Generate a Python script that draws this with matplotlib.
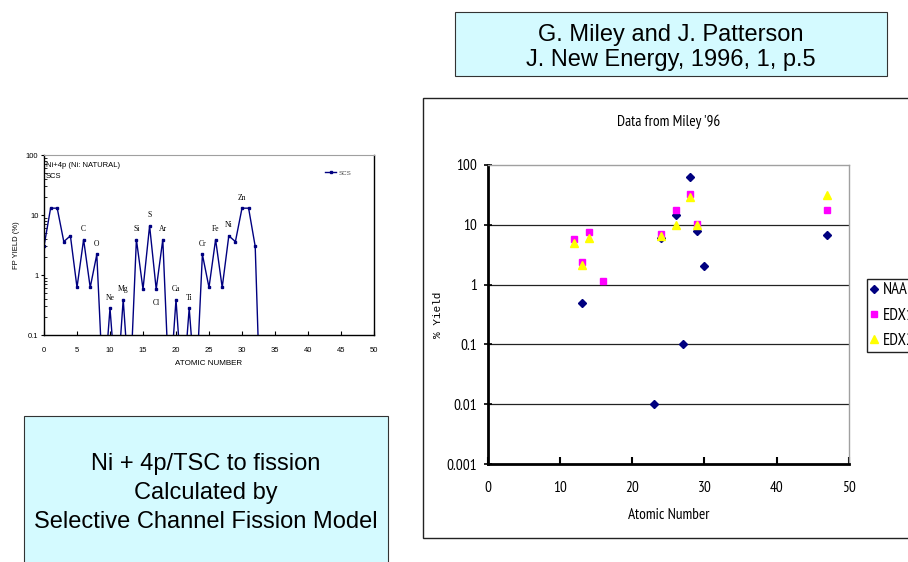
import matplotlib
matplotlib.use("Agg")
import matplotlib.pyplot as plt
from matplotlib.patches import Rectangle
from matplotlib.ticker import LogLocator, NullFormatter, FixedLocator

# --- left chart: SCS model (Ni + 4p, natural Ni) ---
scs_z = list(range(0, 34))
scs_yield = [3.0, 13, 13, 3.6, 4.5, 0.62, 3.9, 0.62, 2.2, 0.01,
             0.28, 0.01, 0.39, 0.01, 3.9, 0.58, 6.6, 0.58, 3.9, 0.01,
             0.39, 0.01, 0.28, 0.01, 2.2, 0.62, 3.9, 0.62, 4.5, 3.6,
             13, 13, 3.0, 0.001]
elem_names = ['C', 'O', 'Ne', 'Mg', 'Si', 'S', 'Ar', 'Cl', 'Ca', 'Ti', 'Cr', 'Fe', 'Ni', 'Zn']
elem_z = [6, 8, 10, 12, 14, 16, 18, 17, 20, 22, 24, 26, 28, 30]
elem_below = ['Cl']

# --- right chart: Miley '96 data ---
naa_z = [13, 23, 24, 26, 27, 28, 29, 30, 47]
naa_yield = [0.5, 0.01, 5.9, 14.4, 0.1, 63, 7.9, 2.06, 6.6]
edx1_z = [12, 13, 14, 16, 24, 26, 28, 29, 47]
edx1_yield = [5.7, 2.34, 7.4, 1.15, 7.1, 17.3, 33, 10.3, 17.3]
edx2_z = [12, 13, 14, 24, 26, 28, 29, 47]
edx2_yield = [5.0, 2.1, 5.9, 6.4, 10, 29, 10, 31]

box_fill = '#D4FAFF'
sans = ['Liberation Sans', 'DejaVu Sans']
narrow = ['PT Sans Narrow', 'Roboto Condensed', 'Archivo Narrow', 'Liberation Sans']

fig = plt.figure(figsize=(9.08, 5.62), dpi=100)
fig.patch.set_facecolor('white')

# outer frame of the right chart and the two note boxes
fig.patches.append(Rectangle((423 / 908, 1 - 538 / 562), 0.6, 440 / 562,
                             transform=fig.transFigure, facecolor='white',
                             edgecolor='#222222', linewidth=1.0, zorder=-2))
fig.patches.append(Rectangle((455 / 908, 1 - 76 / 562), 432 / 908, 64 / 562,
                             transform=fig.transFigure, facecolor=box_fill,
                             edgecolor='#333333', linewidth=0.8, zorder=-2))
fig.patches.append(Rectangle((24 / 908, -0.05), 364 / 908, 1 - 416 / 562 + 0.05,
                             transform=fig.transFigure, facecolor=box_fill,
                             edgecolor='#333333', linewidth=0.8, zorder=-2))

fig.text(671 / 908, 1 - 47.5 / 562, 'G. Miley and J. Patterson\nJ. New Energy, 1996, 1, p.5',
         ha='center', va='center', fontsize=17, family=sans, linespacing=1.2)
fig.text(206 / 908, 1 - 493 / 562,
         'Ni + 4p/TSC to fission\nCalculated by\nSelective Channel Fission Model',
         ha='center', va='center', fontsize=17, family=sans, linespacing=1.42)

# ---------------- left chart ----------------
ax1 = fig.add_axes([44 / 908, 1 - 335 / 562, 330 / 908, 180 / 562])
ax1.plot(scs_z, scs_yield, color='#000080', linewidth=1.0, marker='s',
         markersize=1.8, label='SCS')
ax1.set_yscale('log')
ax1.set_ylim(0.1, 100)
ax1.set_xlim(0, 50)
ax1.set_xticks(range(0, 51, 5))
ax1.yaxis.set_major_locator(FixedLocator([0.1, 1, 10, 100]))
ax1.set_yticklabels(['0.1', '1', '10', '100'])
ax1.yaxis.set_minor_locator(LogLocator(base=10, subs=range(2, 10)))
ax1.yaxis.set_minor_formatter(NullFormatter())
ax1.tick_params(axis='x', direction='in', length=3, width=0.8, labelsize=5.5, pad=8.5)
ax1.tick_params(axis='y', which='major', direction='out', length=2, width=0.8, labelsize=5.5, pad=2)
ax1.tick_params(axis='y', which='minor', direction='in', length=2, width=0.6)
for lab in ax1.get_xticklabels() + ax1.get_yticklabels():
    lab.set_family(sans)
for s in ['left', 'bottom', 'right']:
    ax1.spines[s].set_linewidth(1.0)
    ax1.spines[s].set_color('black')
ax1.spines['top'].set_color('#A0A0A0')
ax1.spines['top'].set_linewidth(0.8)
ax1.set_xlabel('ATOMIC NUMBER', fontsize=5.8, family=sans, labelpad=4.5)
ax1.set_ylabel('FP YIELD (%)', fontsize=5.5, family=sans, labelpad=4)
ax1.text(0.006, 0.944, 'Ni+4p (Ni: NATURAL)', transform=ax1.transAxes,
         fontsize=5.5, family=sans, va='center', ha='left')
ax1.text(0.006, 0.883, 'SCS', transform=ax1.transAxes,
         fontsize=5.5, family=sans, va='center', ha='left')
for name, z in zip(elem_names, elem_z):
    y = scs_yield[scs_z.index(z)]
    dy = -10 if name in elem_below else 7.5
    ax1.annotate(name, (z, y), xytext=(0, dy), textcoords='offset points',
                 ha='center', va='center', fontsize=5.5,
                 family=['Liberation Serif', 'DejaVu Serif'])
leg1 = ax1.legend(loc='center left', bbox_to_anchor=(0.835, 0.9), frameon=False,
                  handlelength=1.8, handletextpad=0.3,
                  prop={'family': sans, 'size': 4.5})
leg1.get_texts()[0].set_color('#555555')

# ---------------- right chart ----------------
ax2 = fig.add_axes([487.7 / 908, 1 - 464.3 / 562, 361.3 / 908, 299.6 / 562])
h_naa, = ax2.plot(naa_z, naa_yield, linestyle='none', marker='D', markersize=4.4,
                  color='#000080', label='NAA', zorder=3)
h_e1, = ax2.plot(edx1_z, edx1_yield, linestyle='none', marker='s', markersize=4.6,
                 color='#FF00FF', label='EDX1', zorder=4)
h_e2, = ax2.plot(edx2_z, edx2_yield, linestyle='none', marker='^', markersize=5.2,
                 color='#FFFF00', label='EDX2', zorder=5)
ax2.set_yscale('log')
ax2.set_ylim(0.001, 100)
ax2.set_xlim(0, 50)
ax2.set_xticks(range(0, 51, 10))
ax2.yaxis.set_major_locator(FixedLocator([0.001, 0.01, 0.1, 1, 10, 100]))
ax2.set_yticklabels(['0.001', '0.01', '0.1', '1', '10', '100'])
ax2.yaxis.set_minor_locator(FixedLocator([]))
for yv in [0.01, 0.1, 1, 10]:
    ax2.axhline(yv, color='#222222', linewidth=0.9, zorder=1)
ax2.tick_params(axis='x', direction='in', length=5, width=1.5, labelsize=11, pad=12)
ax2.tick_params(axis='y', direction='inout', length=6, width=1.2, labelsize=11, pad=5)
for lab in ax2.get_xticklabels() + ax2.get_yticklabels():
    lab.set_family(narrow)
ax2.spines['left'].set_linewidth(2.0)
ax2.spines['bottom'].set_linewidth(2.0)
ax2.spines['top'].set_color('#A0A0A0')
ax2.spines['right'].set_color('#A0A0A0')
ax2.spines['top'].set_linewidth(1.0)
ax2.spines['right'].set_linewidth(1.0)
ax2.set_title("Data from Miley '96", fontsize=11, family=narrow, pad=28)
ax2.set_xlabel('Atomic Number', fontsize=11, family=narrow, labelpad=9.5)
ax2.set_ylabel('% Yield', fontsize=8, family=['Liberation Mono', 'DejaVu Sans Mono'])
ax2.yaxis.set_label_coords(-0.124, 0.5)

fig.legend(handles=[h_naa, h_e1, h_e2], loc='upper left',
           bbox_to_anchor=(866.7 / 908, 1 - 279 / 562), borderaxespad=0,
           frameon=True, fancybox=False, edgecolor='#222222', framealpha=1,
           borderpad=0.2, labelspacing=0.55, handlelength=0.45, handletextpad=0.3,
           prop={'family': narrow, 'size': 12})

fig.savefig('out.png', dpi=100)
